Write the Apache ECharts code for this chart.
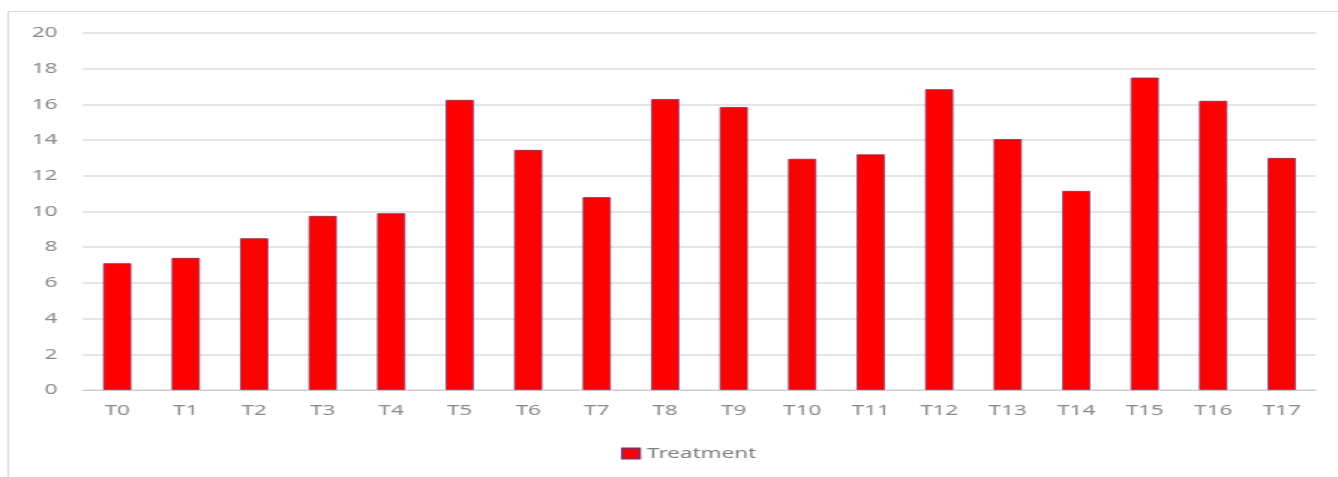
<!DOCTYPE html>
<html>
<head>
<meta charset="utf-8">
<script src="https://cdn.jsdelivr.net/npm/echarts@6/dist/echarts.min.js"></script>
<style>
  html, body { margin: 0; padding: 0; background: #ffffff; overflow: hidden; }
  /* the chart is laid out narrower and widened horizontally, giving the broad lettering */
  #chart { width: 892px; height: 477px; transform: scaleX(1.5); transform-origin: 0 0; }
</style>
</head>
<body>
<div id="chart"></div>
<script>
// Treatment groups and their measured values
const categories = ['T0','T1','T2','T3','T4','T5','T6','T7','T8','T9','T10','T11','T12','T13','T14','T15','T16','T17'];
const treatmentValues = [7.1, 7.4, 8.5, 9.75, 9.9, 16.25, 13.45, 10.8, 16.3, 15.85, 12.95, 13.2, 16.85, 14.05, 11.15, 17.5, 16.2, 13.0];
const seriesName = 'Treatment';
const yMin = 0, yMax = 20, yStep = 2;

const chart = echarts.init(document.getElementById('chart'), null, { renderer: 'canvas' });
const labelFont = '"Noto Sans", "DejaVu Sans", sans-serif';

chart.setOption({
  animation: false,
  backgroundColor: '#ffffff',
  graphic: [{
    type: 'rect',
    shape: { x: 5.5, y: 11.5, width: 1000, height: 520 },
    style: { fill: 'none', stroke: '#d9d9d9', lineWidth: 1 },
    silent: true, z: -1
  }],
  grid: { left: 55.3, right: 14.7, top: 33, bottom: 87, containLabel: false },
  legend: {
    bottom: 11,
    left: 409,
    itemWidth: 11.3,
    itemHeight: 10,
    itemGap: 4,
    icon: 'rect',
    textStyle: { color: '#7f7f7f', fontSize: 15, fontFamily: labelFont, padding: [0, 0, 0, 0] },
    data: [seriesName]
  },
  xAxis: {
    type: 'category',
    data: categories,
    axisLine: { lineStyle: { color: '#d0d0d0', width: 1 } },
    axisTick: { show: false },
    axisLabel: { color: '#8a8a8a', fontSize: 15, margin: 13, fontFamily: labelFont }
  },
  yAxis: {
    type: 'value',
    min: yMin, max: yMax, interval: yStep,
    axisLine: { show: false },
    axisTick: { show: false },
    splitLine: { lineStyle: { color: '#dcdcdc', width: 1.5 } },
    axisLabel: { color: '#8a8a8a', fontSize: 15, margin: 17, fontFamily: labelFont }
  },
  series: [{
    name: seriesName,
    type: 'bar',
    data: treatmentValues,
    barWidth: 18.7,
    itemStyle: { color: '#ff0000', borderColor: '#8e2a5c', borderWidth: 0.8 }
  }]
});
</script>
</body>
</html>
